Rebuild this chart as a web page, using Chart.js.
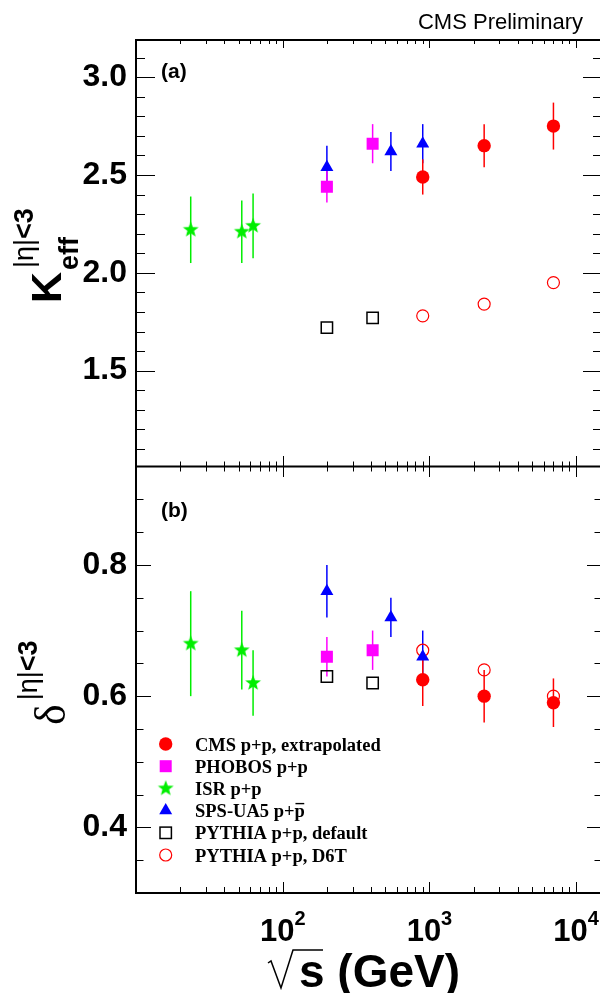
<!DOCTYPE html>
<html>
<head>
<meta charset="utf-8">
<script src="https://cdn.jsdelivr.net/npm/chart.js@4.4.1/dist/chart.umd.min.js"></script>
<style>
  html, body { margin: 0; padding: 0; background: #fff; overflow: hidden; }
  #wrap { width: 604px; height: 993px; }
</style>
</head>
<body>
<div id="wrap"><canvas id="chart" width="604" height="993"></canvas></div>
<script>
// sqrt(s) in GeV
const isrEnergy = [23.6, 52.6, 62.8];
const phobosEnergy = [200, 410];
const ua5Energy = [200, 546, 900];
const cmsEnergy = [900, 2360, 7000];
const pythiaDefEnergy = [200, 410];
const pythiaD6TEnergy = [900, 2360, 7000];

// panel (a): K_eff
const isrK = [2.22, 2.21, 2.24];
const isrKErr = [0.17, 0.16, 0.165];
const phobosK = [2.44, 2.66];
const phobosKErr = [0.08, 0.10];
const ua5K = [2.54, 2.62, 2.66];
const ua5KErr = [0.11, 0.10, 0.10];
const cmsK = [2.49, 2.65, 2.75];
const cmsKErr = [0.09, 0.11, 0.12];
const pythiaDefK = [1.72, 1.77];
const pythiaD6TK = [1.78, 1.84, 1.95];

// panel (b): delta
const isrDelta = [0.68, 0.67, 0.62];
const isrDeltaErr = [0.08, 0.06, 0.05];
const phobosDelta = [0.66, 0.67];
const phobosDeltaErr = [0.03, 0.03];
const ua5Delta = [0.76, 0.72, 0.66];
const ua5DeltaErr = [0.04, 0.03, 0.04];
const cmsDelta = [0.625, 0.60, 0.59];
const cmsDeltaErr = [0.04, 0.04, 0.037];
const pythiaDefDelta = [0.63, 0.62];
const pythiaD6TDelta = [0.67, 0.64, 0.60];

const kTickLabels = [1.5, 2.0, 2.5, 3.0];
const deltaTickLabels = [0.4, 0.6, 0.8];
const xTickLabels = [100, 1000, 10000];
const legendLabels = ['CMS p+p, extrapolated', 'PHOBOS p+p', 'ISR p+p', 'SPS-UA5 p+p', 'PYTHIA p+p, default', 'PYTHIA p+p, D6T'];
const legendKinds = ['cms', 'phobos', 'isr', 'ua5', 'pydef', 'pyd6t'];

const RED = '#ff0000', MAGENTA = '#ff00ff', GREEN = '#00ee00', BLUE = '#0000ff';
const SANS = '"Liberation Sans", Arial, sans-serif';
const SERIF = '"Liberation Serif", "Times New Roman", serif';

// filled five-pointed star, used as an image point style
function makeStar(color) {
    const c = document.createElement('canvas');
    c.width = 22; c.height = 22;
    const g = c.getContext('2d');
    g.translate(11, 11);
    g.beginPath();
    for (let i = 0; i < 10; i++) {
        const r = i % 2 === 0 ? 8.3 : 3.5;
        const a = -Math.PI / 2 + i * Math.PI / 5;
        g.lineTo(r * Math.cos(a), r * Math.sin(a));
    }
    g.closePath();
    g.fillStyle = color;
    g.fill();
    return c;
}
const starImg = makeStar(GREEN);

function pts(xs, ys) {
    return xs.map((x, i) => ({ x: x, y: ys[i] }));
}

// same shapes as the datasets, for the legend
function drawMarker(ctx, kind, x, y) {
    ctx.save();
    ctx.beginPath();
    if (kind === 'cms') {
        ctx.arc(x, y, 6.7, 0, Math.PI * 2);
        ctx.fillStyle = RED; ctx.fill();
    } else if (kind === 'phobos') {
        ctx.fillStyle = MAGENTA; ctx.fillRect(x - 6, y - 6, 12, 12);
    } else if (kind === 'isr') {
        ctx.drawImage(starImg, x - 11, y - 11);
    } else if (kind === 'ua5') {
        const r = 7.5;
        ctx.moveTo(x, y - r);
        ctx.lineTo(x + r * 0.866, y + r * 0.5);
        ctx.lineTo(x - r * 0.866, y + r * 0.5);
        ctx.closePath();
        ctx.fillStyle = BLUE; ctx.fill();
    } else if (kind === 'pydef') {
        ctx.lineWidth = 1.5; ctx.strokeStyle = '#000';
        ctx.strokeRect(x - 5.7, y - 5.7, 11.4, 11.4);
    } else {
        ctx.arc(x, y, 6, 0, Math.PI * 2);
        ctx.lineWidth = 1.2; ctx.strokeStyle = RED; ctx.stroke();
    }
    ctx.restore();
}

function tickList(min, max, step, majorStep) {
    const out = [];
    for (let i = Math.ceil(min / step - 1e-6); i * step <= max + 1e-9; i++) {
        const v = i * step;
        const q = v / majorStep;
        out.push({ v: v, major: Math.abs(q - Math.round(q)) < 1e-6 });
    }
    return out;
}

function logTicks(min, max) {
    const out = [];
    for (let d = 1; d <= max; d *= 10) {
        for (let m = 1; m <= 9; m++) {
            const v = m * d;
            if (v > min && v <= max) out.push({ v: v, major: m === 1 });
        }
    }
    return out;
}

const errorBars = {
    id: 'errorBars',
    beforeDatasetsDraw(chart) {
        const ctx = chart.ctx;
        const xs = chart.scales.x;
        ctx.save();
        ctx.lineWidth = 1.5;
        chart.data.datasets.forEach(ds => {
            if (!ds.errors) return;
            const ys = chart.scales[ds.yAxisID];
            ctx.strokeStyle = ds.errColor;
            ds.data.forEach((p, i) => {
                const px = xs.getPixelForValue(p.x);
                ctx.beginPath();
                ctx.moveTo(px, ys.getPixelForValue(p.y + ds.errors[i]));
                ctx.lineTo(px, ys.getPixelForValue(p.y - ds.errors[i]));
                ctx.stroke();
            });
        });
        ctx.restore();
    }
};

const frame = {
    id: 'frame',
    afterDraw(chart) {
        const ctx = chart.ctx;
        const a = chart.chartArea;
        const xs = chart.scales.x, yk = chart.scales.yK, yd = chart.scales.yD;
        const mid = yk.bottom;

        ctx.save();
        ctx.strokeStyle = '#000';
        ctx.lineWidth = 1;
        ctx.beginPath();
        // x ticks on top, divider and bottom
        logTicks(xs.min, xs.max).forEach(t => {
            const px = Math.round(xs.getPixelForValue(t.v)) + 0.5;
            const tTop = t.major ? 8 : 4, tMid = t.major ? 10.5 : 5, tBot = t.major ? 11 : 6;
            ctx.moveTo(px, a.top); ctx.lineTo(px, a.top + tTop);
            ctx.moveTo(px, mid - tMid); ctx.lineTo(px, mid + tMid);
            ctx.moveTo(px, a.bottom); ctx.lineTo(px, a.bottom - tBot);
        });
        // y ticks, both sides
        tickList(yk.min, yk.max, 0.1, 0.5).forEach(t => {
            const py = Math.round(yk.getPixelForValue(t.v)) + 0.5;
            const len = t.major ? 19 : 9;
            ctx.moveTo(a.left, py); ctx.lineTo(a.left + len, py);
            ctx.moveTo(a.right, py); ctx.lineTo(a.right - len, py);
        });
        tickList(yd.min, yd.max, 0.05, 0.2).forEach(t => {
            const py = Math.round(yd.getPixelForValue(t.v)) + 0.5;
            const len = t.major ? 15 : 7.5;
            ctx.moveTo(a.left, py); ctx.lineTo(a.left + len, py);
            ctx.moveTo(a.right, py); ctx.lineTo(a.right - len, py);
        });
        ctx.stroke();

        // frame and panel divider
        ctx.lineWidth = 2;
        ctx.strokeRect(a.left, a.top, a.right - a.left, a.bottom - a.top);
        ctx.beginPath();
        ctx.moveTo(a.left, mid); ctx.lineTo(a.right, mid);
        ctx.stroke();

        ctx.fillStyle = '#000';
        ctx.textBaseline = 'alphabetic';

        // x tick labels 10^n
        xTickLabels.forEach(v => {
            const px = xs.getPixelForValue(v);
            const base = '10', sup = String(Math.round(Math.log10(v)));
            ctx.font = 'bold 31px ' + SANS;
            const wb = ctx.measureText(base).width;
            ctx.font = 'bold 20px ' + SANS;
            const ws = ctx.measureText(sup).width;
            const x0 = px - (wb + ws) / 2;
            ctx.font = 'bold 31px ' + SANS;
            ctx.textAlign = 'left';
            ctx.fillText(base, x0, 941);
            ctx.font = 'bold 20px ' + SANS;
            ctx.fillText(sup, x0 + wb, 925);
        });

        // x title: sqrt(s) (GeV)
        ctx.lineWidth = 1.5;
        ctx.beginPath();
        ctx.moveTo(268, 963);
        ctx.lineTo(271, 961);
        ctx.lineTo(281, 988);
        ctx.lineTo(293, 950);
        ctx.lineTo(323, 950);
        ctx.stroke();
        ctx.font = 'bold 46px ' + SANS;
        ctx.fillText('s (GeV)', 299, 987);

        // header and panel tags
        ctx.font = '22px ' + SANS;
        ctx.textAlign = 'right';
        ctx.fillText('CMS Preliminary', 583, 29);
        ctx.textAlign = 'left';
        ctx.font = 'bold 21px ' + SANS;
        ctx.fillText('(a)', 161, 78);
        ctx.fillText('(b)', 161, 517);

        // y title, panel (a)
        ctx.save();
        ctx.translate(61, 303);
        ctx.rotate(-Math.PI / 2);
        ctx.font = 'bold 43px ' + SANS;
        const wK = ctx.measureText('K').width;
        ctx.fillText('K', 0, 0);
        ctx.font = 'bold 27px ' + SANS;
        ctx.fillText('eff', wK + 2, 17);
        ctx.font = '27px ' + SANS;
        const wEta = ctx.measureText('|\u03b7|').width;
        ctx.fillText('|\u03b7|', wK + 4, -28);
        ctx.font = 'bold 27px ' + SANS;
        ctx.fillText('<3', wK + 4 + wEta, -28);
        ctx.restore();

        // y title, panel (b)
        ctx.save();
        ctx.translate(65, 725);
        ctx.rotate(-Math.PI / 2);
        ctx.font = '44px ' + SERIF;
        const wD = ctx.measureText('\u03b4').width;
        ctx.fillText('\u03b4', 0, 0);
        ctx.font = '27px ' + SANS;
        const wEta2 = ctx.measureText('|\u03b7|').width;
        ctx.fillText('|\u03b7|', wD + 4, -28);
        ctx.font = 'bold 27px ' + SANS;
        ctx.fillText('<3', wD + 4 + wEta2, -28);
        ctx.restore();

        // legend
        ctx.font = 'bold 18.5px ' + SERIF;
        legendLabels.forEach((label, i) => {
            const cy = 744 + i * 22.2;
            drawMarker(ctx, legendKinds[i], 165.7, cy);
            ctx.fillText(label, 195, cy + 6.5);
            if (legendKinds[i] === 'ua5') {
                // antiproton bar over the last p
                const w0 = ctx.measureText(label.slice(0, -1)).width;
                const wp = ctx.measureText('p').width;
                ctx.lineWidth = 1.4;
                ctx.beginPath();
                ctx.moveTo(195 + w0 + 1, cy - 7);
                ctx.lineTo(195 + w0 + wp - 0.5, cy - 7);
                ctx.stroke();
            }
        });
        ctx.restore();
    }
};

function set(label, xs, ys, axis, style) {
    return Object.assign({ label: label, data: pts(xs, ys), yAxisID: axis, showLine: false }, style);
}

const cmsStyle = { pointStyle: 'circle', pointRadius: 6.7, pointBackgroundColor: RED, pointBorderWidth: 0 };
const phobosStyle = { pointStyle: 'rect', pointRadius: 8.5, pointBackgroundColor: MAGENTA, pointBorderWidth: 0 };
const isrStyle = { pointStyle: starImg, pointRadius: 8 };
const ua5Style = { pointStyle: 'triangle', pointRadius: 7.5, pointBackgroundColor: BLUE, pointBorderWidth: 0 };
const pyDefStyle = { pointStyle: 'rect', pointRadius: 8, pointBackgroundColor: 'rgba(0,0,0,0)', pointBorderColor: '#000', pointBorderWidth: 1.5 };
const pyD6TStyle = { pointStyle: 'circle', pointRadius: 6, pointBackgroundColor: 'rgba(0,0,0,0)', pointBorderColor: RED, pointBorderWidth: 1.2 };

const datasets = [
    set('SPS-UA5 K', ua5Energy, ua5K, 'yK', Object.assign({ errors: ua5KErr, errColor: BLUE }, ua5Style)),
    set('CMS K', cmsEnergy, cmsK, 'yK', Object.assign({ errors: cmsKErr, errColor: RED }, cmsStyle)),
    set('PHOBOS K', phobosEnergy, phobosK, 'yK', Object.assign({ errors: phobosKErr, errColor: MAGENTA }, phobosStyle)),
    set('ISR K', isrEnergy, isrK, 'yK', Object.assign({ errors: isrKErr, errColor: GREEN }, isrStyle)),
    set('PYTHIA default K', pythiaDefEnergy, pythiaDefK, 'yK', pyDefStyle),
    set('PYTHIA D6T K', pythiaD6TEnergy, pythiaD6TK, 'yK', pyD6TStyle),
    set('SPS-UA5 delta', ua5Energy, ua5Delta, 'yD', Object.assign({ errors: ua5DeltaErr, errColor: BLUE }, ua5Style)),
    set('CMS delta', cmsEnergy, cmsDelta, 'yD', Object.assign({ errors: cmsDeltaErr, errColor: RED }, cmsStyle)),
    set('PHOBOS delta', phobosEnergy, phobosDelta, 'yD', Object.assign({ errors: phobosDeltaErr, errColor: MAGENTA }, phobosStyle)),
    set('ISR delta', isrEnergy, isrDelta, 'yD', Object.assign({ errors: isrDeltaErr, errColor: GREEN }, isrStyle)),
    set('PYTHIA default delta', pythiaDefEnergy, pythiaDefDelta, 'yD', pyDefStyle),
    set('PYTHIA D6T delta', pythiaD6TEnergy, pythiaD6TDelta, 'yD', pyD6TStyle)
];

function labelOnly(list) {
    return v => list.some(t => Math.abs(t - v) < 1e-6) ? v.toFixed(1) : '';
}

const yTickFont = { family: SANS, weight: 'bold', size: 32 };

new Chart(document.getElementById('chart'), {
    type: 'scatter',
    data: { datasets: datasets },
    options: {
        responsive: false,
        animation: false,
        layout: { autoPadding: false, padding: { top: 40, right: 2, bottom: 0, left: 0 } },
        plugins: { legend: { display: false }, tooltip: { enabled: false } },
        scales: {
            x: {
                type: 'logarithmic', min: 10, max: 15000,
                grid: { display: false, drawTicks: false }, border: { display: false },
                ticks: { display: false },
                afterFit: s => { s.height = 100; }
            },
            yD: {
                type: 'linear', position: 'left', stack: 'panels', stackWeight: 1,
                min: 0.3, max: 0.95,
                grid: { display: false, drawTicks: false }, border: { display: false },
                ticks: { stepSize: 0.2, includeBounds: false, autoSkip: false, padding: 9, color: '#000', font: yTickFont, callback: labelOnly(deltaTickLabels) },
                afterFit: s => { s.width = 136; }
            },
            yK: {
                type: 'linear', position: 'left', stack: 'panels', stackWeight: 1,
                min: 1.01, max: 3.19,
                grid: { display: false, drawTicks: false }, border: { display: false },
                ticks: { stepSize: 0.5, includeBounds: false, autoSkip: false, padding: 9, color: '#000', font: yTickFont, callback: labelOnly(kTickLabels) },
                afterFit: s => { s.width = 136; }
            }
        }
    },
    plugins: [errorBars, frame]
});
</script>
</body>
</html>
